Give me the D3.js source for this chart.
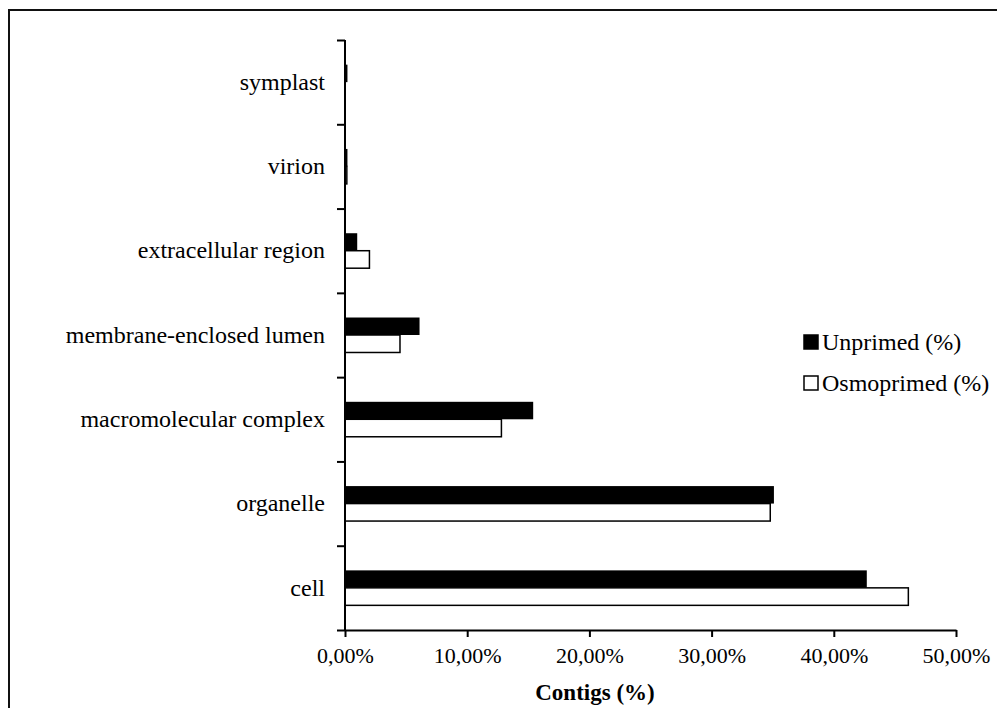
<!DOCTYPE html>
<html>
<head>
<meta charset="utf-8">
<script src="https://cdn.jsdelivr.net/npm/d3@7"></script>
<style>
  html, body { margin: 0; padding: 0; background: #fff; }
  svg { display: block; }
  text { font-family: "Liberation Serif", "Times New Roman", serif; fill: #000; }
</style>
</head>
<body>
<svg id="chart" width="997" height="708"></svg>
<script>
// ---- data ----
const categories = ["symplast", "virion", "extracellular region", "membrane-enclosed lumen",
                    "macromolecular complex", "organelle", "cell"];
const seriesNames = ["Unprimed (%)", "Osmoprimed (%)"];
const unprimed   = [0.2, 0.2, 1.0, 6.1, 15.4, 35.1, 42.7];
const osmoprimed = [0.0, 0.15, 2.0, 4.5, 12.8, 34.8, 46.1];
const xTicks = [0, 10, 20, 30, 40, 50];
const xTickLabels = ["0,00%", "10,00%", "20,00%", "30,00%", "40,00%", "50,00%"];
const xTitle = "Contigs (%)";

const svg = d3.select("#chart");

// frame
svg.append("rect").attr("x", 9).attr("y", 10).attr("width", 1000).attr("height", 720)
  .attr("fill", "none").attr("stroke", "#111").attr("stroke-width", 2);

const pL = 345, pR = 956, pT = 40, pB = 630;

const x = d3.scaleLinear().domain([0, 50]).range([pL, pR]);
const y = d3.scaleBand().domain(categories).range([pT, pB]).padding(0);
const y1 = d3.scaleBand().domain(seriesNames).range([0, y.bandwidth()])
  .paddingInner(0).paddingOuter(1.41);

const rows = categories.map((c, i) => ({ cat: c, vals: [
  { s: seriesNames[0], v: unprimed[i] },
  { s: seriesNames[1], v: osmoprimed[i] }
]}));

const g = svg.append("g");
rows.forEach(r => {
  r.vals.forEach(d => {
    if (d.v <= 0) return;
    const isU = d.s === seriesNames[0];
    g.append("rect")
      .attr("x", x(0))
      .attr("y", y(r.cat) + y1(d.s))
      .attr("width", x(d.v) - x(0))
      .attr("height", y1.bandwidth())
      .attr("fill", isU ? "#000" : "#fff")
      .attr("stroke", "#000")
      .attr("stroke-width", isU ? 0 : 1.5);
  });
});

// y axis: line with boundary ticks
const yIdx = d3.scaleLinear().domain([0, categories.length]).range([pT, pB]);
const yAxisTicks = svg.append("g").attr("transform", `translate(${pL},0)`)
  .call(d3.axisLeft(yIdx).ticks(categories.length).tickFormat("").tickSize(8).tickSizeOuter(0));
yAxisTicks.selectAll("line, path").attr("stroke", "#000").attr("stroke-width", 2);
yAxisTicks.select(".domain").attr("d", `M0,${pT}V${pB}`);

// y labels
const yLab = svg.append("g").attr("transform", `translate(${pL},0)`)
  .call(d3.axisLeft(y).tickSize(0).tickPadding(20));
yLab.select(".domain").remove();
yLab.selectAll("text").style("font-size", "24px").style("font-family", "Liberation Serif");

// x axis
const xAxis = svg.append("g").attr("transform", `translate(0,${pB})`)
  .call(d3.axisBottom(x).tickValues(xTicks).tickFormat((d, i) => xTickLabels[i])
    .tickSize(7).tickSizeOuter(0).tickPadding(10));
xAxis.selectAll("line, path").attr("stroke", "#000").attr("stroke-width", 2);
xAxis.selectAll("text").style("font-size", "22px").style("font-family", "Liberation Serif");

// x title
svg.append("text").attr("x", 595).attr("y", 700)
  .attr("text-anchor", "middle").style("font-size", "23px").style("font-weight", "bold")
  .text(xTitle);

// legend
const lg = svg.append("g").attr("transform", "translate(804,331)");
seriesNames.forEach((s, i) => {
  const row = lg.append("g").attr("transform", `translate(0,${i * 41})`);
  row.append("rect").attr("x", 0).attr("y", 4).attr("width", 14).attr("height", 14)
    .attr("fill", i === 0 ? "#000" : "#fff").attr("stroke", "#000").attr("stroke-width", 1.5);
  row.append("text").attr("x", 18).attr("y", 19).style("font-size", "24px").text(s);
});
</script>
</body>
</html>
